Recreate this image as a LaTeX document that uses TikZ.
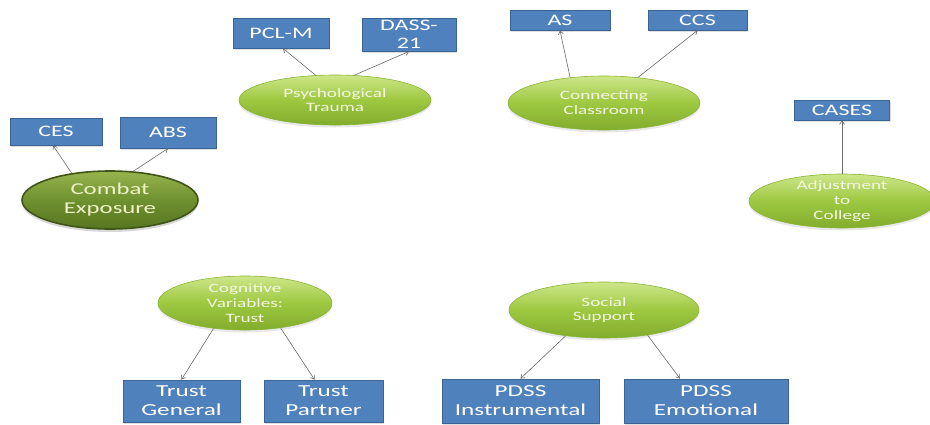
\documentclass[tikz,border=0pt]{standalone}
\usepackage{fontspec}
\setmainfont{Carlito}
\newfontfamily\widefont{Carlito}[FakeStretch=1.5]
\usetikzlibrary{arrows.meta,shapes.geometric,shadows}

\definecolor{boxfill}{HTML}{4F81BD}
\definecolor{boxedge}{HTML}{3A6494}
\definecolor{limetop}{HTML}{CDE68A}
\definecolor{limemid}{HTML}{9DC840}
\definecolor{limebot}{HTML}{82AC2C}
\definecolor{limeedge}{HTML}{8AB535}
\definecolor{olivetop}{HTML}{97B44E}
\definecolor{olivemid}{HTML}{6F9130}
\definecolor{olivebot}{HTML}{587520}
\definecolor{oliveedge}{HTML}{3E5517}
\definecolor{paletext}{HTML}{F4F6E2}
\definecolor{combattext}{HTML}{EEF2C4}
\definecolor{linkgray}{HTML}{6A6A6A}

\tikzset{
  measure/.style={rectangle, fill=boxfill, draw=boxedge, line width=0.8pt,
    inner sep=0pt, align=center, text=white,
    font=\widefont\fontsize{16}{18.5}\selectfont,
    drop shadow={opacity=0.25, shadow xshift=1pt, shadow yshift=-1.5pt}},
  bigmeasure/.style={measure, font=\widefont\fontsize{16.8}{19}\selectfont},
  construct/.style={ellipse, draw=limeedge, line width=0.6pt, inner sep=0pt,
    top color=limetop, bottom color=limebot, middle color=limemid,
    drop shadow={opacity=0.18, shadow xshift=0pt, shadow yshift=-2.5pt}},
  combat/.style={ellipse, draw=oliveedge, line width=1.6pt, inner sep=0pt,
    top color=olivetop, bottom color=olivebot, middle color=olivemid,
    drop shadow={opacity=0.3, shadow xshift=0pt, shadow yshift=-3pt}},
  ctext/.style={align=center, text=paletext, inner sep=0pt,
    font=\widefont\fontsize{12.8}{14.8}\selectfont},
  link/.style={draw=linkgray, line width=0.6pt,
    -{Straight Barb[length=3.5pt,width=5pt]}}
}

\begin{document}
\begin{tikzpicture}[x=1pt,y=-1pt]
\useasboundingbox (0,0) rectangle (930,424);
\fill[white] (0,0) rectangle (930,424);

% ---- constructs (ellipses) ----
\node[combat, minimum width=176pt, minimum height=58pt,
      label={[align=center, text=combattext, inner sep=0pt,
              font=\widefont\fontsize{16.5}{19}\selectfont]center:Combat\\Exposure}]
      (combat) at (110,200) {};
\node[construct, minimum width=192pt, minimum height=50pt,
      label={[ctext]center:Psychological\\Trauma}] (trauma) at (335,100) {};
\node[construct, minimum width=192pt, minimum height=54pt,
      label={[ctext]center:Connecting\\Classroom}] (classroom) at (604,103) {};
\node[construct, minimum width=186pt, minimum height=54pt,
      label={[ctext]center:Adjustment\\to\\College}] (adjust) at (842,201) {};
\node[construct, minimum width=174pt, minimum height=54pt,
      label={[ctext]center:Cognitive\\Variables:\\Trust}] (trust) at (245,303) {};
\node[construct, minimum width=190pt, minimum height=56pt,
      label={[ctext]center:Social\\Support}] (social) at (604,310) {};

% ---- measures (boxes) ----
\node[measure, minimum width=92pt, minimum height=27pt]  (ces)   at (56,131.5)  {CES};
\node[measure, minimum width=96pt, minimum height=31pt]  (abs)   at (168,132.5) {ABS};
\node[measure, minimum width=96pt, minimum height=30pt]  (pcl)   at (281,33)    {PCL-M};
\node[measure, minimum width=94pt, minimum height=33pt]  (dass)  at (409,34.5)  {DASS-\\21};
\node[measure, minimum width=100pt, minimum height=20pt] (as)    at (560,20)    {AS};
\node[measure, minimum width=99pt, minimum height=20pt]  (ccs)   at (697.5,20)  {CCS};
\node[measure, minimum width=95pt, minimum height=20pt]  (cases) at (842,110)   {CASES};
\node[bigmeasure, minimum width=117pt, minimum height=42pt] (tgen)  at (181.5,401) {Trust\\General};
\node[bigmeasure, minimum width=119pt, minimum height=42pt] (tpart) at (323.5,401) {Trust\\Partner};
\node[bigmeasure, minimum width=157pt, minimum height=44pt] (pinst) at (520.5,401) {PDSS\\Instrumental};
\node[bigmeasure, minimum width=164pt, minimum height=44pt] (pemo)  at (706,401)   {PDSS\\Emotional};

% ---- connectors ----
\draw[link] (combat.145) -- ([xshift=-3pt]ces.south);
\draw[link] (combat.51) -- (abs.south);
\draw[link] (trauma.128) -- ([xshift=2pt]pcl.south);
\draw[link] (trauma.52) -- (dass.south);
\draw[link] (classroom.143) -- (as.south);
\draw[link] (classroom.37) -- (ccs.south);
\draw[link] (adjust.north) -- (cases.south);
\draw[link] (trust.219) -- (tgen.north);
\draw[link] (trust.325) -- ([xshift=-9pt]tpart.north);
\draw[link] (social.214) -- (pinst.north);
\draw[link] (social.330) -- ([xshift=-26pt]pemo.north);
\end{tikzpicture}
\end{document}
